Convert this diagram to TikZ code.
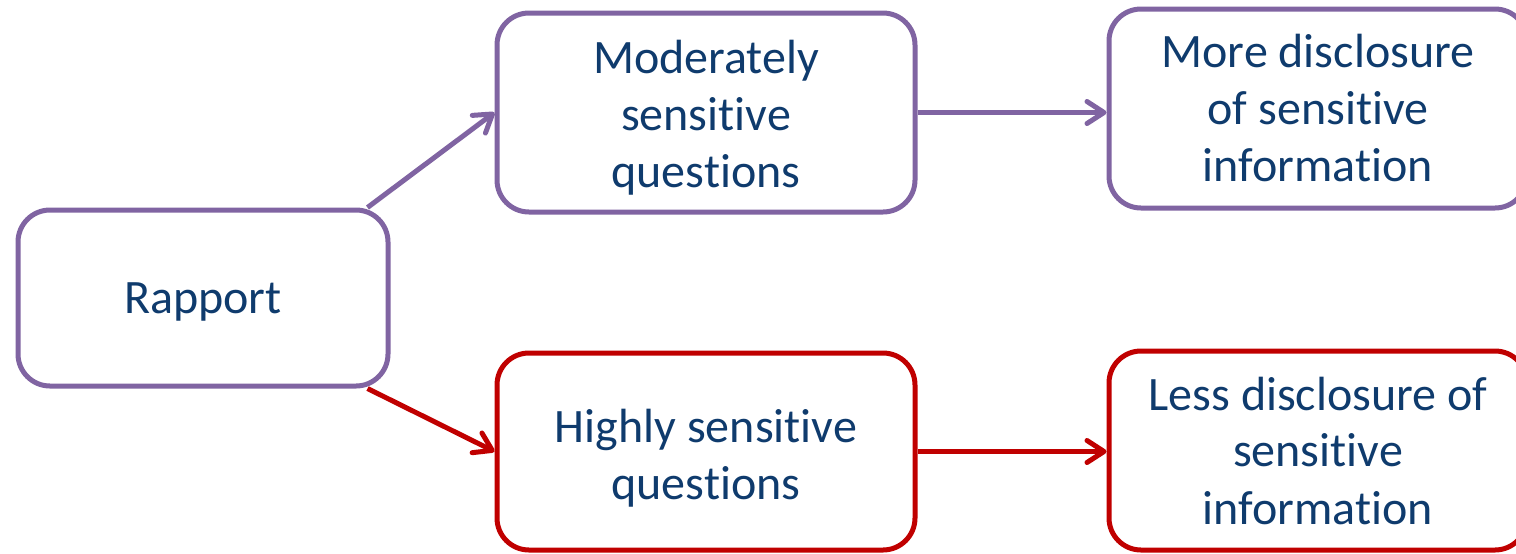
\documentclass[tikz,border=0pt]{standalone}
\usepackage{fontspec}
\setmainfont{Carlito}[Ligatures={NoCommon}]
\usetikzlibrary{arrows.meta}
\definecolor{boxpurple}{HTML}{8064A2}
\definecolor{boxred}{HTML}{C00000}
\definecolor{textblue}{HTML}{0F3B6D}
\tikzset{
  box/.style={draw, rectangle, rounded corners=16pt, line width=2.5pt,
    minimum width=209pt, minimum height=99.5pt, inner sep=0pt},
  pbox/.style={box, draw=boxpurple},
  rbox/.style={box, draw=boxred},
  boxtext/.style={align=center, text=textblue, inner sep=0pt,
    font=\fontsize{24pt}{28.5pt}\selectfont},
  conn/.style={line width=2.5pt, -{Straight Barb[length=8.5pt,width=11pt,line cap=round,line join=round]}},
}
\begin{document}
\begin{tikzpicture}
\useasboundingbox (0,0) rectangle (758pt,-276.5pt);
\node[pbox, minimum width=185pt, minimum height=88pt] (rap) at (101.5pt,-149pt) {};
\node[pbox] (mod) at (353pt,-56.25pt) {};
\node[rbox, minimum height=98.5pt] (high) at (353pt,-225.75pt) {};
\node[pbox] (more) at (659pt,-54.25pt) {};
\node[rbox] (less) at (659pt,-225.25pt) {};
\node[boxtext] (rapt) at ([yshift=-2pt]rap.center) {Rapport};
\node[boxtext] (modt) at ([yshift=-2.5pt]mod.center) {Moderately\\sensitive\\questions};
\node[boxtext] (hight) at ([yshift=-3.5pt]high.center) {Highly sensitive\\questions};
\node[boxtext] (moret) at (more.center) {More disclosure\\of sensitive\\information};
\node[boxtext] (lesst) at (less.center) {Less disclosure of\\sensitive\\information};
\coordinate (rapup) at ([xshift=-11.5pt]rap.north east);
\coordinate (rapdown) at ([xshift=-11.5pt]rap.south east);
\draw[conn, boxpurple] (rapup) -- (mod.west);
\draw[conn, boxred] (rapdown) -- (high.west);
\draw[conn, boxpurple] (mod.east) -- (more.west |- mod.east);
\draw[conn, boxred] (high.east) -- (less.west |- high.east);
\end{tikzpicture}
\end{document}
